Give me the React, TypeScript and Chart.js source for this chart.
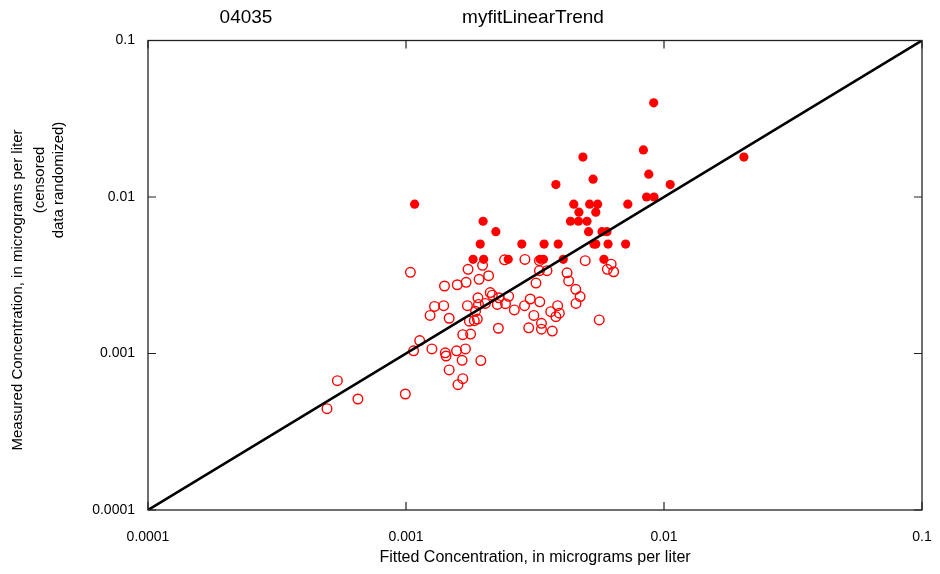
import React, { useEffect, useRef } from "react";
import { Chart, registerables } from "chart.js";

Chart.register(...registerables);

const TITLE_LEFT = "04035";
const TITLE_MAIN = "myfitLinearTrend";
const X_TITLE = "Fitted Concentration, in micrograms per liter";
const Y_TITLE_LINES = ["Measured Concentration, in micrograms per liter", "(censored", "data randomized)"];
const DECADE_TICKS = [0.0001, 0.001, 0.01, 0.1];
const DECADE_LABELS = ["0.0001", "0.001", "0.01", "0.1"];

// Uncensored (filled) observations
const FILLED_X = [
  0.00108, 0.00199, 0.00223, 0.00194, 0.00182, 0.002, 0.00249, 0.00331, 0.00341, 0.00407,
  0.00585, 0.00281, 0.00343, 0.00389, 0.00535, 0.00544, 0.00607, 0.0071, 0.0051, 0.00575,
  0.00601, 0.00434, 0.00466, 0.00503, 0.00468, 0.00544, 0.00447, 0.00515, 0.00553, 0.00724,
  0.00856, 0.00915, 0.00381, 0.01057, 0.00531, 0.00873, 0.00485, 0.0204, 0.00832, 0.00912,
];
const FILLED_Y = [
  0.009, 0.007, 0.006, 0.005, 0.004, 0.004, 0.004, 0.004, 0.004, 0.004,
  0.004, 0.005, 0.005, 0.005, 0.005, 0.005, 0.005, 0.005, 0.006, 0.006,
  0.006, 0.007, 0.007, 0.007, 0.008, 0.008, 0.009, 0.009, 0.009, 0.009,
  0.01, 0.01, 0.012, 0.012, 0.013, 0.014, 0.018, 0.018, 0.02, 0.04,
];

// Censored (open) observations, randomized below reporting level
const OPEN_X = [
  0.00104, 0.00198, 0.00174, 0.00241, 0.00209, 0.00192, 0.00171, 0.00158, 0.00141, 0.00212,
  0.00216, 0.0019, 0.00229, 0.0025, 0.00129, 0.0014, 0.00173, 0.00191, 0.00203, 0.00226,
  0.00243, 0.00263, 0.00186, 0.00124, 0.00147, 0.00176, 0.00184, 0.00189, 0.00228, 0.00166,
  0.00178, 0.00113, 0.00107, 0.00126, 0.00142, 0.00143, 0.00157, 0.0017, 0.00165, 0.00195,
  0.00147, 0.00166, 0.00159, 0.000542, 0.000651, 0.000994, 0.000494, 0.00289, 0.00329, 0.00495,
  0.00624, 0.00603, 0.00638, 0.00329, 0.00352, 0.00421, 0.00427, 0.00319, 0.00455, 0.00473,
  0.00456, 0.00303, 0.0033, 0.00288, 0.00387, 0.00313, 0.00364, 0.00393, 0.00381, 0.00561,
  0.00335, 0.00335, 0.00299, 0.00369,
];
const OPEN_Y = [
  0.0033, 0.00366, 0.00345, 0.00397, 0.00314, 0.00298, 0.00285, 0.00275, 0.0027, 0.00245,
  0.00236, 0.00227, 0.00227, 0.00232, 0.002, 0.00202, 0.00202, 0.00206, 0.00209, 0.00206,
  0.00208, 0.0019, 0.00186, 0.00175, 0.00168, 0.00161, 0.00162, 0.00166, 0.00145, 0.00132,
  0.00133, 0.00121, 0.00104, 0.00107, 0.00101, 0.000964, 0.00104, 0.00107, 0.000904, 0.000901,
  0.000785, 0.00069, 0.000632, 0.00067, 0.000512, 0.000551, 0.000444, 0.00399, 0.00392, 0.00392,
  0.00372, 0.00345, 0.00333, 0.00338, 0.00338, 0.00328, 0.00291, 0.00282, 0.00257, 0.00231,
  0.00209, 0.00223, 0.00214, 0.00202, 0.00202, 0.00175, 0.00185, 0.00181, 0.00172, 0.00164,
  0.00156, 0.00143, 0.00146, 0.00139,
];

const LINE_X = [0.0001, 0.1];
const LINE_Y = [0.0001, 0.1];

const FONT = '"Liberation Sans", Arial, Helvetica, sans-serif';

const decorPlugin = {
  id: "decor",
  afterDraw(chart: any) {
    const { ctx, chartArea, scales } = chart;
    const { left, right, top, bottom } = chartArea;
    ctx.save();
    // box
    ctx.strokeStyle = "#222";
    ctx.lineWidth = 1.3;
    ctx.strokeRect(left, top, right - left, bottom - top);
    // inward ticks
    ctx.lineWidth = 1.2;
    const tl = 8;
    DECADE_TICKS.forEach((v) => {
      const px = scales.x.getPixelForValue(v);
      const py = scales.y.getPixelForValue(v);
      ctx.beginPath();
      ctx.moveTo(px, bottom);
      ctx.lineTo(px, bottom - tl);
      ctx.moveTo(px, top);
      ctx.lineTo(px, top + tl);
      ctx.moveTo(left, py);
      ctx.lineTo(left + tl, py);
      ctx.moveTo(right, py);
      ctx.lineTo(right - tl, py);
      ctx.stroke();
    });
    // titles
    ctx.fillStyle = "#000";
    ctx.textAlign = "center";
    ctx.textBaseline = "middle";
    ctx.font = `19px ${FONT}`;
    ctx.fillText(TITLE_LEFT, 246, 18);
    ctx.fillText(TITLE_MAIN, 533, 18);
    ctx.font = `16px ${FONT}`;
    ctx.fillText(X_TITLE, (left + right) / 2, 558);
    // y title
    ctx.font = `15px ${FONT}`;
    ctx.save();
    ctx.translate(18, 290);
    ctx.rotate(-Math.PI / 2);
    ctx.fillText(Y_TITLE_LINES[0], 0, 0);
    ctx.restore();
    ctx.save();
    ctx.translate(40, 180);
    ctx.rotate(-Math.PI / 2);
    ctx.fillText(Y_TITLE_LINES[1], 0, 0);
    ctx.restore();
    ctx.save();
    ctx.translate(59, 180);
    ctx.rotate(-Math.PI / 2);
    ctx.fillText(Y_TITLE_LINES[2], 0, 0);
    ctx.restore();
    ctx.restore();
  },
};

export default function App() {
  const ref = useRef<HTMLCanvasElement | null>(null);
  useEffect(() => {
    if (!ref.current) return;
    const toPts = (xs: number[], ys: number[]) => xs.map((x, i) => ({ x, y: ys[i] }));
    const decades = (scale: any) => {
      scale.ticks = DECADE_TICKS.map((v) => ({ value: v }));
    };
    const chart = new Chart(ref.current, {
      type: "scatter",
      data: {
        datasets: [
          {
            label: "line",
            type: "line",
            data: toPts(LINE_X, LINE_Y),
            borderColor: "#000",
            borderWidth: 2.6,
            pointRadius: 0,
            fill: false,
            order: 0,
          } as any,
          {
            label: "uncensored",
            data: toPts(FILLED_X, FILLED_Y),
            backgroundColor: "#ff0000",
            borderColor: "#ff0000",
            borderWidth: 0,
            pointRadius: 4.6,
            order: 1,
          },
          {
            label: "censored",
            data: toPts(OPEN_X, OPEN_Y),
            backgroundColor: "rgba(0,0,0,0)",
            borderColor: "#ff0000",
            borderWidth: 1.4,
            pointRadius: 4.8,
            order: 2,
          },
        ],
      },
      options: {
        responsive: false,
        animation: false,
        layout: { padding: { top: 40.5, right: 18, left: 0, bottom: 0 } },
        plugins: { legend: { display: false }, tooltip: { enabled: false } },
        scales: {
          x: {
            type: "logarithmic",
            min: 0.0001,
            max: 0.1,
            afterBuildTicks: decades,
            afterFit: (s: any) => {
              s.height = 64;
              s.paddingLeft = 0;
              s.paddingRight = 0;
            },
            grid: { display: false, drawTicks: false },
            border: { display: false },
            ticks: {
              autoSkip: false,
              maxRotation: 0,
              padding: 19,
              color: "#000",
              font: { family: FONT, size: 14 },
              callback: (v: any) => {
                const i = DECADE_TICKS.findIndex((d) => Math.abs(d - v) / d < 1e-6);
                return i >= 0 ? DECADE_LABELS[i] : "";
              },
            },
          },
          y: {
            type: "logarithmic",
            min: 0.0001,
            max: 0.1,
            afterBuildTicks: decades,
            afterFit: (s: any) => {
              s.width = 148;
              s.paddingTop = 0;
              s.paddingBottom = 0;
            },
            grid: { display: false, drawTicks: false },
            border: { display: false },
            ticks: {
              autoSkip: false,
              padding: 13,
              color: "#000",
              font: { family: FONT, size: 14 },
              callback: (v: any) => {
                const i = DECADE_TICKS.findIndex((d) => Math.abs(d - v) / d < 1e-6);
                return i >= 0 ? DECADE_LABELS[i] : "";
              },
            },
          },
        },
      },
      plugins: [decorPlugin],
    });
    return () => chart.destroy();
  }, []);
  return (
    <div style={{ position: "fixed", left: 0, top: 0, width: 940, height: 574, background: "#fff" }}>
      <canvas ref={ref} width={940} height={574} style={{ width: 940, height: 574, display: "block" }} />
    </div>
  );
}
